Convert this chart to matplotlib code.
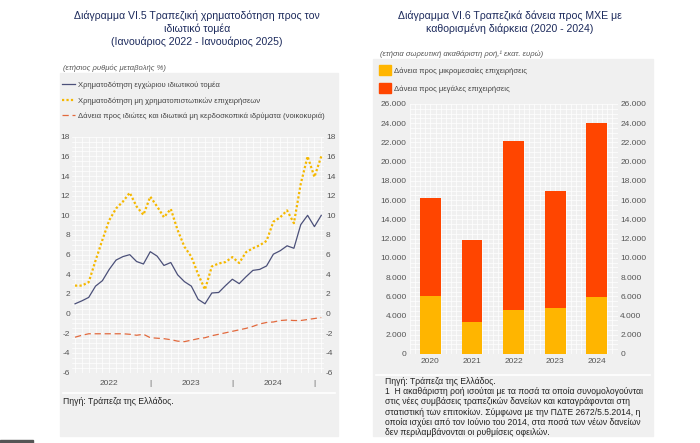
import matplotlib.pyplot as plt
from matplotlib.patches import Rectangle, Patch
from matplotlib.lines import Line2D
from matplotlib.ticker import FuncFormatter, MultipleLocator
import numpy as np

plt.rcParams['font.family'] = ['Liberation Sans', 'DejaVu Sans']
plt.rcParams['axes.unicode_minus'] = False

# Diagram VI.5: monthly, Jan 2022 - Jan 2025 (annual % change)
private_sector = [1.0, 1.3, 1.65, 2.8, 3.35, 4.5, 5.45, 5.8, 6.0, 5.3, 5.05, 6.3,
                  5.85, 4.9, 5.2, 3.95, 3.25, 2.8, 1.45, 1.0, 2.1, 2.15, 2.85, 3.5,
                  3.05, 3.75, 4.4, 4.5, 4.85, 6.05, 6.4, 6.9, 6.65, 9.05, 10.0, 8.85,
                  10.0]
nfc = [2.85, 2.85, 3.2, 5.4, 7.5, 9.5, 10.7, 11.4, 12.3, 10.9, 10.05, 11.9,
       10.9, 9.8, 10.65, 8.5, 6.8, 5.8, 4.0, 2.45, 4.8, 5.1, 5.25, 5.75,
       5.15, 6.25, 6.65, 6.95, 7.4, 9.35, 9.8, 10.5, 9.2, 13.2, 16.0, 13.9,
       16.0]
households = [-2.4, -2.2, -2.05, -2.05, -2.05, -2.05, -2.05, -2.05, -2.1, -2.2, -2.1, -2.45,
              -2.5, -2.55, -2.65, -2.8, -2.85, -2.7, -2.55, -2.45, -2.25, -2.1, -1.95, -1.8,
              -1.65, -1.5, -1.3, -1.05, -0.9, -0.85, -0.7, -0.65, -0.7, -0.7, -0.6, -0.5,
              -0.4]
x_labels = ['2022', '|', '2023', '|', '2024', '|']

# Diagram VI.6: annual gross flow, million euro
years = ['2020', '2021', '2022', '2023', '2024']
sme_loans = [6050, 3350, 4600, 4750, 5950]
large_loans = [10150, 8500, 17550, 12200, 18100]

W, H = 700, 443
BOX = '#f0f0f0'
TITLE_C = '#1c2a5c'
TICK_C = '#555555'


def fx(px):
    return px / W


def fy(py):
    return 1 - py / H


fig = plt.figure(figsize=(7, 4.43), dpi=100)

# grey panels
fig.add_artist(Rectangle((fx(60), fy(436)), fx(338) - fx(60), fy(73) - fy(436),
                         transform=fig.transFigure, color=BOX, zorder=0))
fig.add_artist(Rectangle((fx(373), fy(436)), fx(653) - fx(373), fy(59) - fy(436),
                         transform=fig.transFigure, color=BOX, zorder=0))
fig.add_artist(Line2D([fx(63), fx(335)], [fy(393), fy(393)], color='white', lw=1.2,
                      transform=fig.transFigure))
fig.add_artist(Line2D([fx(376), fx(650)], [fy(375), fy(375)], color='white', lw=1.2,
                      transform=fig.transFigure))
fig.add_artist(Rectangle((0, 0), fx(33), 3 / H, transform=fig.transFigure,
                         color='#555555', zorder=0))

# ---------- left: lines ----------
fig.text(fx(197), fy(10.5), 'Διάγραμμα VI.5 Τραπεζική χρηματοδότηση προς τον\n'
         'ιδιωτικό τομέα\n(Ιανουάριος 2022 - Ιανουάριος 2025)',
         ha='center', va='top', fontsize=7.6, color=TITLE_C, linespacing=1.3)
fig.text(fx(63), fy(68), '(ετήσιος ρυθμός μεταβολής %)', ha='left', va='center',
         fontsize=5.5, style='italic', color='#555555')

x = np.arange(len(private_sector))
ax1 = fig.add_axes([fx(72.3), fy(372.6), fx(324) - fx(72.3), fy(136.7) - fy(372.6)])
ax1.set_facecolor('none')
l1, = ax1.plot(x, private_sector, color='#4b5079', lw=0.9)
l2, = ax1.plot(x, nfc, color='#f5b800', lw=1.6, ls=(0, (1, 1)))
l3, = ax1.plot(x, households, color='#e2693d', lw=0.9, ls=(0, (5, 3)))
ax1.set_xlim(-0.4, 36.4)
ax1.set_ylim(-6, 18)
ax1.set_yticks(range(-6, 19, 2))
ax1.yaxis.set_minor_locator(MultipleLocator(0.5))
ax1.set_xticks(x, minor=True)
ax1.set_xticks([5, 11, 17, 23, 29, 35])
ax1.set_xticklabels(x_labels)
ax1.grid(True, which='both', color='white', lw=0.5)
ax1.set_axisbelow(True)
ax1.tick_params(which='both', length=0, labelsize=6, colors=TICK_C)
ax1.tick_params(axis='y', labelright=True, pad=1.5)
ax1.tick_params(axis='x', pad=5)
for s in ax1.spines.values():
    s.set_visible(False)

fig.legend([l1, l2, l3],
           ['Χρηματοδότηση εγχώριου ιδιωτικού τομέα',
            'Χρηματοδότηση μη χρηματοπιστωτικών επιχειρήσεων',
            'Δάνεια προς ιδιώτες και ιδιωτικά μη κερδοσκοπικά ιδρύματα (νοικοκυριά)'],
           loc='upper left', bbox_to_anchor=(fx(62), fy(81.5)), frameon=False,
           fontsize=5.5, labelspacing=1.05, handlelength=1.7, handletextpad=0.4,
           borderaxespad=0, borderpad=0, labelcolor='#444444')

fig.text(fx(63), fy(401), 'Πηγή: Τράπεζα της Ελλάδος.', ha='left', va='center',
         fontsize=6.2, color='#222222')

# ---------- right: bars ----------
fig.text(fx(510), fy(10.5), 'Διάγραμμα VI.6 Τραπεζικά δάνεια προς ΜΧΕ με\n'
         'καθορισμένη διάρκεια (2020 - 2024)',
         ha='center', va='top', fontsize=7.6, color=TITLE_C, linespacing=1.3)
fig.text(fx(380), fy(54), '(ετήσια σωρευτική ακαθάριστη ροή,¹ εκατ. ευρώ)',
         ha='left', va='center', fontsize=5.5, style='italic', color='#555555')

xb = np.arange(len(years))
ax2 = fig.add_axes([fx(409.5), fy(354), fx(617.5) - fx(409.5), fy(104) - fy(354)])
ax2.set_facecolor('none')
b1 = ax2.bar(xb, sme_loans, width=0.5, color='#ffb500')
b2 = ax2.bar(xb, large_loans, width=0.5, bottom=sme_loans, color='#ff4500')
ax2.set_xlim(-0.5, 4.5)
ax2.set_ylim(0, 26000)
ax2.set_yticks(range(0, 26001, 2000))
ax2.yaxis.set_minor_locator(MultipleLocator(500))
ax2.xaxis.set_minor_locator(MultipleLocator(0.125))
ax2.yaxis.set_major_formatter(FuncFormatter(lambda v, p: f'{int(v):,}'.replace(',', '.')))
ax2.set_xticks(xb)
ax2.set_xticklabels(years)
ax2.grid(True, which='both', color='white', lw=0.5)
ax2.set_axisbelow(True)
ax2.tick_params(which='both', length=0, labelsize=6, colors=TICK_C)
ax2.tick_params(axis='y', labelright=True, pad=2)
ax2.tick_params(axis='x', pad=3)
for s in ax2.spines.values():
    s.set_visible(False)

fig.legend([Patch(color='#ffb500'), Patch(color='#ff4500')],
           ['Δάνεια προς μικρομεσαίες επιχειρήσεις',
            'Δάνεια προς μεγάλες επιχειρήσεις'],
           loc='upper left', bbox_to_anchor=(fx(379), fy(65)), frameon=False,
           fontsize=5.5, labelspacing=1.0, handlelength=1.6, handleheight=1.7,
           handletextpad=0.4, borderaxespad=0, borderpad=0, labelcolor='#444444')

fig.text(fx(385), fy(377), 'Πηγή: Τράπεζα της Ελλάδος.\n'
         '1  Η ακαθάριστη ροή ισούται με τα ποσά τα οποία συνομολογούνται\n'
         'στις νέες συμβάσεις τραπεζικών δανείων και καταγράφονται στη\n'
         'στατιστική των επιτοκίων. Σύμφωνα με την ΠΔΤΕ 2672/5.5.2014, η\n'
         'οποία ισχύει από τον Ιούνιο του 2014, στα ποσά των νέων δανείων\n'
         'δεν περιλαμβάνονται οι ρυθμίσεις οφειλών.',
         ha='left', va='top', fontsize=6.2, color='#222222', linespacing=1.17)

fig.savefig('out.png', dpi=100)
